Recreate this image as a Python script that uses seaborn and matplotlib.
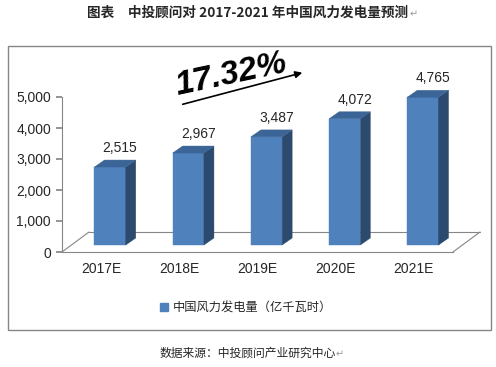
import matplotlib.pyplot as plt
import numpy as np
import pandas as pd
import seaborn as sns
from matplotlib.patches import Patch, Polygon, Rectangle
from matplotlib.transforms import ScaledTranslation

# %% data

years = ["2017E", "2018E", "2019E", "2020E", "2021E"]
output = [2515, 2967, 3487, 4072, 4765]
series_name = "中国风力发电量（亿千瓦时）"
growth = "17.32%"

df = pd.DataFrame({"year": years, "output": output})

# %% style

sns.set_theme(style="white")
plt.rcParams["font.family"] = ["Liberation Sans", "Noto Sans CJK SC", "DejaVu Sans"]
cjk = ["Noto Sans CJK SC", "DejaVu Sans"]

front_c = "#4F81BD"
top_c = "#3C6597"
side_c = "#2C4A6E"
grey = "#868686"

# %% plot

fig = plt.figure(figsize=(4.96, 3.67), dpi=100)
ax = fig.add_axes([62 / 496, 1 - 252 / 367, (453 - 62) / 496, (252 - 97) / 367])

sns.barplot(data=df, x="year", y="output", color=front_c, width=0.4,
            saturation=1, ax=ax)
ax.set_xlim(-0.5, 4.5)
ax.set_ylim(0, 5000)
ax.set_yticks(np.arange(0, 5001, 1000))
ax.set_yticklabels([f"{v:,}" for v in range(0, 5001, 1000)], fontsize=10)
ax.set_xticks(range(len(years)))
ax.set_xticklabels(years, fontsize=10)
ax.set_xticks(np.arange(-0.5, 4.6, 1), minor=True)
ax.tick_params(axis="x", which="major", length=0, pad=7)
ax.tick_params(axis="x", which="minor", length=4, color=grey, direction="out")
ax.tick_params(axis="y", length=4, color=grey, direction="out", pad=4, left=True)
ax.set_xlabel("")
ax.set_ylabel("")
for s in ["top", "right"]:
    ax.spines[s].set_visible(False)
for s in ["left", "bottom"]:
    ax.spines[s].set_color(grey)
    ax.spines[s].set_linewidth(0.8)

# floor of the 3d box
floor = ax.transData + ScaledTranslation(0.27, 0.20, fig.dpi_scale_trans)
ax.plot([-0.5, 4.5], [0, 0], color=grey, lw=0.8, transform=floor, clip_on=False)
for xe in [-0.5, 4.5]:
    x0, y0 = ax.transData.transform((xe, 0))
    x1, y1 = floor.transform((xe, 0))
    fig.add_artist(plt.Line2D([x0 / 496, x1 / 496], [y0 / 367, y1 / 367],
                              color=grey, lw=0.8, transform=fig.transFigure))

# shift bars into the box and add side / top faces
dx, dy = 9, 7
depth_x, depth_y = 10, 7
for p in ax.patches:
    x, w, h = p.get_x(), p.get_width(), p.get_height()
    (xl, yb), (xr, yt) = ax.transData.transform([(x, 0), (x + w, h)])
    xl, xr, yb, yt = xl + dx, xr + dx, yb + dy, yt + dy
    p.set_visible(False)
    faces = [
        ([(xl, yb), (xr, yb), (xr, yt), (xl, yt)], front_c),
        ([(xr, yb), (xr + depth_x, yb + depth_y), (xr + depth_x, yt + depth_y), (xr, yt)], side_c),
        ([(xl, yt), (xr, yt), (xr + depth_x, yt + depth_y), (xl + depth_x, yt + depth_y)], top_c),
    ]
    for pts, c in faces:
        pts = [(a / 496, b / 367) for a, b in pts]
        fig.add_artist(Polygon(pts, closed=True, facecolor=c, edgecolor=c, lw=0.3,
                               transform=fig.transFigure))

lab = ax.transData + ScaledTranslation(0.19, 0.19, fig.dpi_scale_trans)
for i, v in enumerate(output):
    ax.text(i, v, f"{v:,}", transform=lab, ha="center", va="bottom", fontsize=10)

# growth annotation
fig.text(231 / 496, 1 - 75 / 367, growth, fontsize=24, fontweight="bold", style="italic",
         rotation=12, ha="center", va="center", color="black")
ax.annotate("", xy=(305 / 496, 1 - 72 / 367), xytext=(180 / 496, 1 - 105 / 367),
            xycoords="figure fraction", textcoords="figure fraction",
            arrowprops=dict(arrowstyle="-|>", color="black", lw=1.2, mutation_scale=10))

# legend
ax.legend([Patch(facecolor=front_c, edgecolor=front_c)], [series_name], loc="center",
          bbox_to_anchor=(246 / 496, 1 - 308 / 367), bbox_transform=fig.transFigure,
          frameon=False, handlelength=0.6, handleheight=0.6, handletextpad=0.4,
          prop={"family": cjk, "size": 8.8})

# frame and texts
fig.add_artist(Rectangle((8 / 496, 1 - 330 / 367), 483 / 496, 284 / 367, fill=False,
                         edgecolor=grey, lw=1, transform=fig.transFigure))
fig.text(248 / 496, 1 - 13 / 367, "图表　中投顾问对 2017-2021 年中国风力发电量预测",
         ha="center", va="center", fontsize=9.8, fontweight="bold", family=cjk)
fig.text(410 / 496, 1 - 14 / 367, "↵", ha="left", va="center", fontsize=7,
         color="#999999", family=["DejaVu Sans"])
fig.text(248 / 496, 1 - 353 / 367, "数据来源：中投顾问产业研究中心",
         ha="center", va="center", fontsize=8.5, family=cjk)
fig.text(336 / 496, 1 - 354 / 367, "↵", ha="left", va="center", fontsize=7,
         color="#999999", family=["DejaVu Sans"])

fig.savefig("out.png", dpi=100, facecolor="w")
